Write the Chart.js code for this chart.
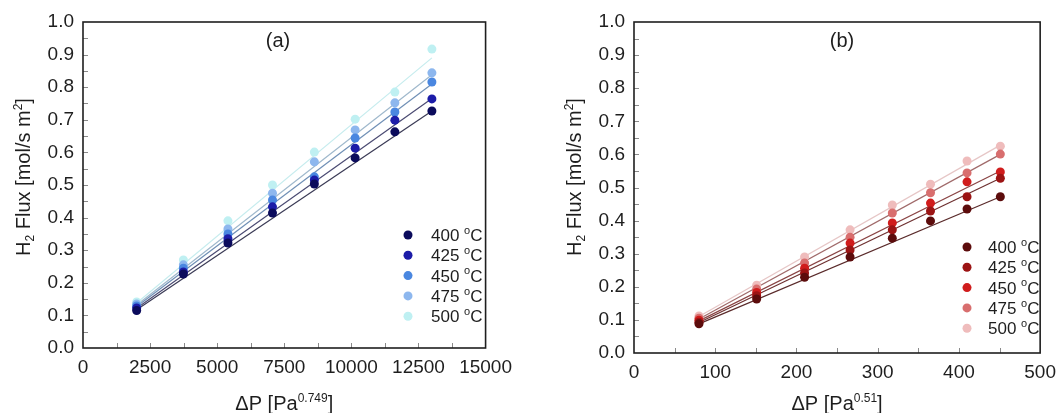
<!DOCTYPE html>
<html>
<head>
<meta charset="utf-8">
<script src="https://cdn.jsdelivr.net/npm/chart.js@4.4.1/dist/chart.umd.min.js"></script>
<style>
  html, body { margin: 0; padding: 0; background: #fff; }
  .wrap { position: absolute; top: 0; height: 413px; }
  #wa { left: 0; width: 520px; }
  #wb { left: 540px; width: 524px; }
</style>
</head>
<body>
<div class="wrap" id="wa"><canvas id="chartA"></canvas></div>
<div class="wrap" id="wb"><canvas id="chartB"></canvas></div>
<script>
// ---------- data ----------
const tempLabels = ['400', '425', '450', '475', '500'];

// (a) flux vs dP^0.749
const xA = [2000, 3740, 5400, 7060, 8620, 10140, 11620, 13000];
const a400 = [0.115, 0.227, 0.322, 0.414, 0.503, 0.583, 0.663, 0.727];
const a425 = [0.123, 0.233, 0.335, 0.433, 0.515, 0.613, 0.699, 0.764];
const a450 = [0.129, 0.245, 0.350, 0.454, 0.525, 0.644, 0.724, 0.816];
const a475 = [0.135, 0.255, 0.365, 0.475, 0.571, 0.669, 0.752, 0.844];
const a500 = [0.141, 0.270, 0.390, 0.500, 0.601, 0.702, 0.785, 0.917];
// fitted lines, end points
const fitXA = [2000, 13000];
const fitStartA = [0.117, 0.122, 0.127, 0.132, 0.138];
const fitEndA = [0.727, 0.765, 0.810, 0.838, 0.890];

// (b) flux vs dP^0.51
const xB = [80, 151, 210, 266, 318, 365, 410, 451];
const b400 = [0.088, 0.163, 0.229, 0.290, 0.347, 0.399, 0.435, 0.472];
const b425 = [0.093, 0.173, 0.242, 0.311, 0.372, 0.429, 0.472, 0.528];
const b450 = [0.099, 0.183, 0.256, 0.332, 0.393, 0.453, 0.517, 0.547];
const b475 = [0.105, 0.193, 0.272, 0.350, 0.423, 0.484, 0.544, 0.601];
const b500 = [0.112, 0.205, 0.290, 0.372, 0.447, 0.510, 0.580, 0.625];
const fitXB = [80, 451];
const fitStartB = [0.088, 0.092, 0.097, 0.103, 0.110];
const fitEndB = [0.472, 0.528, 0.550, 0.600, 0.628];

const xTicksA = [0, 2500, 5000, 7500, 10000, 12500, 15000];
const xTicksB = [0, 100, 200, 300, 400, 500];

// ---------- colours ----------
const dotA  = ['#0b0b5c', '#1c1ca8', '#4a87e0', '#8db7ee', '#bff0f2'];
const lineA = ['#3a3a55', '#4a4a72', '#6f8fb5', '#9fb8cc', '#c6ecee'];
const dotB  = ['#5c0c0c', '#9c1414', '#d01c1c', '#d86e6e', '#efbcbc'];
const lineB = ['#5a2a2a', '#6e3030', '#8a4444', '#a06a6a', '#e6c6c6'];

const FONT = "'Liberation Sans', Arial, sans-serif";

// ---------- helpers ----------
const pts = (xs, ys) => xs.map((x, i) => ({ x, y: ys[i] }));

function buildDatasets(xs, series, fx, fs, fe, dots, lines) {
  const out = [];
  series.forEach((ys, i) => {
    out.push({
      label: tempLabels[i] + ' oC',
      data: pts(xs, ys),
      showLine: false,
      pointRadius: 4.5,
      pointHoverRadius: 4.5,
      pointBackgroundColor: dots[i],
      pointBorderWidth: 0,
      backgroundColor: dots[i],
      order: 0
    });
  });
  series.forEach((ys, i) => {
    out.push({
      label: 'fit',
      data: pts(fx, [fs[i], fe[i]]),
      showLine: true,
      borderColor: lines[i],
      borderWidth: 1.2,
      pointRadius: 0,
      fill: false,
      order: 1
    });
  });
  return out;
}

function segWidth(ctx, segs, size) {
  let w = 0;
  segs.forEach(s => {
    ctx.font = (s.m === 'n' ? size : Math.round(size * 0.62)) + 'px ' + FONT;
    w += ctx.measureText(s.t).width;
  });
  return w;
}

function drawRich(ctx, segs, cx, baseY, size) {
  let x = cx - segWidth(ctx, segs, size) / 2;
  ctx.textAlign = 'left';
  ctx.textBaseline = 'alphabetic';
  segs.forEach(s => {
    const small = s.m !== 'n';
    ctx.font = (small ? Math.round(size * 0.62) : size) + 'px ' + FONT;
    const dy = s.m === 'sup' ? -size * 0.42 : s.m === 'sub' ? size * 0.22 : 0;
    ctx.fillText(s.t, x, baseY + dy);
    x += ctx.measureText(s.t).width;
  });
}

// frame, inward ticks, titles, panel tag and legend
const decor = {
  id: 'decor',
  afterDraw(chart, args, o) {
    const ctx = chart.ctx;
    const a = chart.chartArea;
    const xs = chart.scales.x, ys = chart.scales.y;
    ctx.save();

    // inward tick marks
    ctx.strokeStyle = '#8a8a8a';
    ctx.lineWidth = 1;
    ctx.beginPath();
    for (let v = xs.min + o.xMinor; v < xs.max - 1e-9; v += o.xMinor) {
      const px = Math.round(xs.getPixelForValue(v)) + 0.5;
      ctx.moveTo(px, a.bottom); ctx.lineTo(px, a.bottom - 5);
    }
    for (let v = ys.min + o.yMinor; v < ys.max - 1e-9; v += o.yMinor) {
      const py = Math.round(ys.getPixelForValue(v)) + 0.5;
      ctx.moveTo(a.left, py); ctx.lineTo(a.left + 5, py);
    }
    ctx.stroke();

    // frame
    ctx.strokeStyle = '#1e1e1e';
    ctx.lineWidth = 1.6;
    ctx.strokeRect(a.left, a.top, a.right - a.left, a.bottom - a.top);

    ctx.fillStyle = '#1e1e1e';
    // x title
    drawRich(ctx, o.xTitle, (a.left + a.right) / 2, 410, 20);
    // y title
    ctx.save();
    ctx.translate(o.yTitleX, 177);
    ctx.rotate(-Math.PI / 2);
    drawRich(ctx, o.yTitle, 0, 7, 20);
    ctx.restore();

    // panel tag
    ctx.font = '20px ' + FONT;
    ctx.textAlign = 'center';
    ctx.textBaseline = 'middle';
    ctx.fillText(o.panel, o.panelX, 41);

    // legend
    for (let i = 0; i < tempLabels.length; i++) {
      const ds = chart.data.datasets[i];
      const y = o.legY + i * 20.3;
      ctx.fillStyle = ds.pointBackgroundColor;
      ctx.beginPath();
      ctx.arc(o.legX, y, 4.5, 0, Math.PI * 2);
      ctx.fill();
      ctx.fillStyle = '#1e1e1e';
      const segs = [{ t: tempLabels[i] + ' ', m: 'n' }, { t: 'o', m: 'sup' }, { t: 'C', m: 'n' }];
      const w = segWidth(ctx, segs, 17);
      drawRich(ctx, segs, o.legTextX + w / 2, y + 6, 17);
    }
    ctx.restore();
  }
};

function makeOptions(xMax, xTicks, padRight, yWidth, xHeight, extra) {
  return {
    responsive: true,
    maintainAspectRatio: false,
    animation: false,
    events: [],
    layout: { padding: { top: 22, right: padRight, left: 0, bottom: 0 } },
    plugins: { legend: { display: false }, tooltip: { enabled: false }, decor: extra },
    scales: {
      x: {
        type: 'linear', min: 0, max: xMax,
        afterBuildTicks: (s) => { s.ticks = xTicks.map(v => ({ value: v })); },
        afterFit: (s) => { s.height = xHeight; },
        grid: { display: false, drawTicks: false },
        border: { display: false },
        ticks: { color: '#1e1e1e', font: { family: FONT, size: 19 }, padding: 8, maxRotation: 0, autoSkip: false,
                 callback: (v) => String(v) }
      },
      y: {
        type: 'linear', min: 0, max: 1,
        ticks: { stepSize: 0.1, color: '#1e1e1e', font: { family: FONT, size: 19 }, padding: 9,
                 callback: (v) => Number(v).toFixed(1) },
        afterFit: (s) => { s.width = yWidth; },
        grid: { display: false, drawTicks: false },
        border: { display: false }
      }
    }
  };
}

new Chart(document.getElementById('chartA'), {
  type: 'scatter',
  data: { datasets: buildDatasets(xA, [a400, a425, a450, a475, a500], fitXA, fitStartA, fitEndA, dotA, lineA) },
  options: makeOptions(15000, xTicksA, 32, 83, 65, {
    xMinor: 1250, yMinor: 0.05,
    xTitle: [{ t: '\u0394P [Pa', m: 'n' }, { t: '0.749', m: 'sup' }, { t: ']', m: 'n' }],
    yTitle: [{ t: 'H', m: 'n' }, { t: '2', m: 'sub' }, { t: ' Flux [mol/s m', m: 'n' }, { t: '2', m: 'sup' }, { t: ']', m: 'n' }],
    yTitleX: 23, panel: '(a)', panelX: 278,
    legX: 408, legTextX: 431, legY: 235
  }),
  plugins: [decor]
});

new Chart(document.getElementById('chartB'), {
  type: 'scatter',
  data: { datasets: buildDatasets(xB, [b400, b425, b450, b475, b500], fitXB, fitStartB, fitEndB, dotB, lineB) },
  options: makeOptions(500, xTicksB, 19, 94, 60, {
    xMinor: 50, yMinor: 0.05,
    xTitle: [{ t: '\u0394P [Pa', m: 'n' }, { t: '0.51', m: 'sup' }, { t: ']', m: 'n' }],
    yTitle: [{ t: 'H', m: 'n' }, { t: '2', m: 'sub' }, { t: ' Flux [mol/s m', m: 'n' }, { t: '2', m: 'sup' }, { t: ']', m: 'n' }],
    yTitleX: 34, panel: '(b)', panelX: 302,
    legX: 427, legTextX: 448, legY: 247
  }),
  plugins: [decor]
});
</script>
</body>
</html>
